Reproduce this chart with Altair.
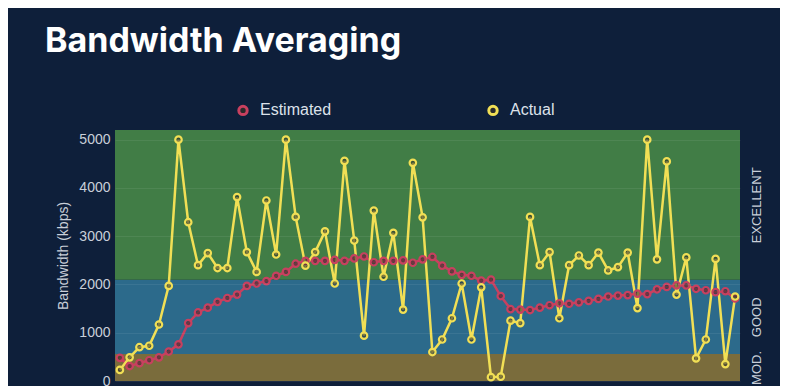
import altair as alt
import pandas as pd

# ---- data ----
actual = [230, 490, 700, 730, 1170, 1970, 5000, 3290, 2400, 2650, 2340, 2340, 3810, 2670, 2260, 3740,
          2620, 5000, 3400, 2390, 2670, 3100, 2020, 4560, 2910, 940, 3530, 2160, 3070, 1480, 4520, 3390,
          600, 860, 1300, 2020, 860, 1940, 80, 90, 1250, 1200, 3400, 2400, 2670, 1300, 2400, 2600,
          2400, 2660, 2290, 2360, 2660, 1510, 5000, 2520, 4550, 1790, 2560, 470, 860, 2530, 350, 1750]
estimated = [480, 310, 370, 430, 490, 610, 760, 1200, 1420, 1520, 1640, 1720, 1790, 1970, 2020, 2070,
             2180, 2260, 2430, 2490, 2490, 2490, 2510, 2490, 2540, 2580, 2460, 2490, 2490, 2500, 2450, 2520,
             2570, 2390, 2270, 2200, 2180, 2080, 2100, 1760, 1490, 1480, 1470, 1520, 1570, 1610, 1600, 1630,
             1660, 1700, 1750, 1770, 1780, 1810, 1800, 1900, 1950, 1980, 1980, 1910, 1880, 1840, 1860, 1710]
series_names = ["Estimated", "Actual"]
band_names = ["MOD.", "GOOD", "EXCELLENT"]
band_lo = [0, 560, 2100]
band_hi = [560, 2100, 5200]
y_ticks = [0, 1000, 2000, 3000, 4000, 5000]

# ---- styling ----
BG = "#0e1f3a"
TXT = "#c9cfd9"
band_colors = ["#7a6c3c", "#2c6a8b", "#417d46"]
line_colors = ["#c8405f", "#f1df55"]
YMAX = 5200

idx = list(range(1, len(actual) + 1))
df = pd.concat([
    pd.DataFrame({"i": idx, "kbps": estimated, "series": series_names[0]}),
    pd.DataFrame({"i": idx, "kbps": actual, "series": series_names[1]}),
])
bands = pd.DataFrame({"band": band_names, "lo": band_lo, "hi": band_hi,
                      "mid": [(a + b) / 2 for a, b in zip(band_lo, band_hi)]})

label_expr = " : ".join(
    f"datum.value == {(a + b) / 2} ? '{n}'" for n, a, b in zip(band_names, band_lo, band_hi)
) + " : ''"

band_layer = alt.Chart(bands).mark_rect().encode(
    y=alt.Y("lo:Q", scale=alt.Scale(domain=[0, YMAX], nice=False, zero=True),
            axis=alt.Axis(orient="right", values=list(bands["mid"]), labelExpr=label_expr,
                          labelAngle=270, labelAlign="center", labelBaseline="middle",
                          labelPadding=16, labelFontSize=13, labelColor=TXT,
                          labelFont="Liberation Sans", labelFlush=False, labelOverlap=False,
                          grid=False, ticks=False, domain=False, title=None)),
    y2="hi:Q",
    color=alt.Color("band:N", scale=alt.Scale(domain=band_names, range=band_colors), legend=None),
)

line_layer = alt.Chart(df).mark_line(
    strokeWidth=2.5,
    point=alt.OverlayMarkDef(filled=False, fill="#2a2a2a", fillOpacity=0.55, size=42, strokeWidth=2.2),
).encode(
    x=alt.X("i:Q", scale=alt.Scale(domain=[0.5, 64.5], nice=False, zero=False), axis=None),
    y=alt.Y("kbps:Q", scale=alt.Scale(domain=[0, YMAX], nice=False, zero=True),
            axis=alt.Axis(orient="left", values=y_ticks, format="d", title="Bandwidth (kbps)",
                          labelFontSize=14, labelColor=TXT, labelFont="Liberation Sans",
                          labelPadding=5, titleFontSize=14, titleColor=TXT,
                          titleFont="Liberation Sans", titleFontWeight="normal", titlePadding=8,
                          ticks=False, domain=False, grid=True, gridColor="#ffffff",
                          gridOpacity=0.07, zindex=1, labelFlush=False)),
    color=alt.Color("series:N", scale=alt.Scale(domain=series_names, range=line_colors),
                    sort=series_names,
                    legend=alt.Legend(title=None, orient="none", direction="horizontal",
                                      legendX=120, legendY=-28, padding=0,
                                      symbolType="circle", symbolSize=70, symbolStrokeWidth=3,
                                      symbolFillColor="#2a2030", labelFontSize=16,
                                      labelColor="#dde2ea", labelFont="Liberation Sans",
                                      labelOffset=9, columnPadding=150)),
    order="i:Q",
)

chart = alt.layer(band_layer, line_layer).resolve_scale(
    y="independent", color="independent"
).properties(
    width=625, height=251,
    autosize=alt.AutoSizeParams(type="none"),
    padding={"left": 107, "top": 122, "right": 40, "bottom": 5},
    background=BG,
    title=alt.TitleParams("Bandwidth Averaging", anchor="start", frame="group", dx=-70, dy=-16,
                          fontSize=34, font="Inter", fontWeight=700, color="#ffffff",
                          offset=0, baseline="alphabetic"),
).configure_view(stroke=None)

chart.save("out.html", embed_options={"renderer": "svg", "actions": False})
